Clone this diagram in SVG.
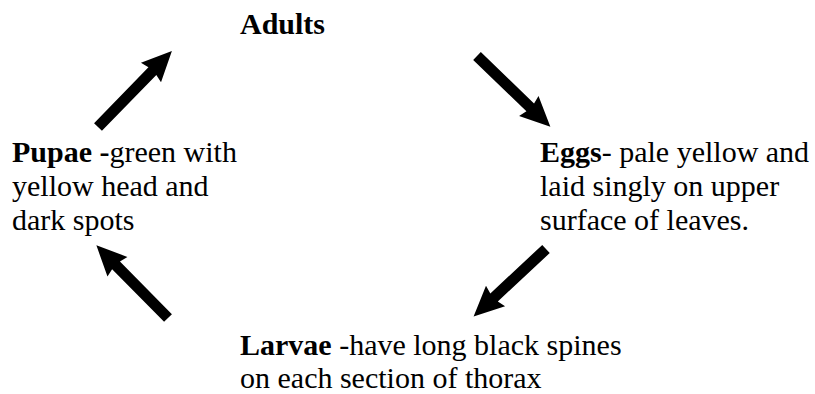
<svg xmlns="http://www.w3.org/2000/svg" width="815" height="394" viewBox="0 0 815 394">
<style>
text{font-family:"Liberation Serif","Times New Roman",serif;font-size:30px;fill:#000}
.b{font-weight:bold}
.arrow{fill:#000}
</style>
<rect width="815" height="394" fill="#fff"/>
<g id="connectors">
<path class="arrow" d="M0,-5.5 L78,-5.5 L76,-14 L106,0 L76,14 L78,5.5 L0,5.5 Z" transform="translate(98,127) rotate(-45.8)"/>
<path class="arrow" d="M0,-5.5 L74,-5.5 L72,-14 L102,0 L72,14 L74,5.5 L0,5.5 Z" transform="translate(477,56) rotate(44)"/>
<path class="arrow" d="M0,-5.5 L71,-5.5 L69,-14 L99,0 L69,14 L71,5.5 L0,5.5 Z" transform="translate(546,249) rotate(137)"/>
<path class="arrow" d="M0,-5.5 L74,-5.5 L72,-14 L102,0 L72,14 L74,5.5 L0,5.5 Z" transform="translate(168,318) rotate(-134.6)"/>
</g>
<g id="adults"><text x="240" y="34" class="b">Adults</text></g>
<g id="eggs">
<text x="540" y="162"><tspan class="b">Eggs</tspan>- pale yellow and</text>
<text x="540" y="196">laid singly on upper</text>
<text x="540" y="230">surface of leaves.</text>
</g>
<g id="larvae">
<text x="240" y="355"><tspan class="b">Larvae</tspan> -have long black spines</text>
<text x="240" y="388">on each section of thorax</text>
</g>
<g id="pupae">
<text x="12" y="162"><tspan class="b">Pupae -</tspan>green with</text>
<text x="12" y="196">yellow head and</text>
<text x="12" y="230">dark spots</text>
</g>
</svg>
